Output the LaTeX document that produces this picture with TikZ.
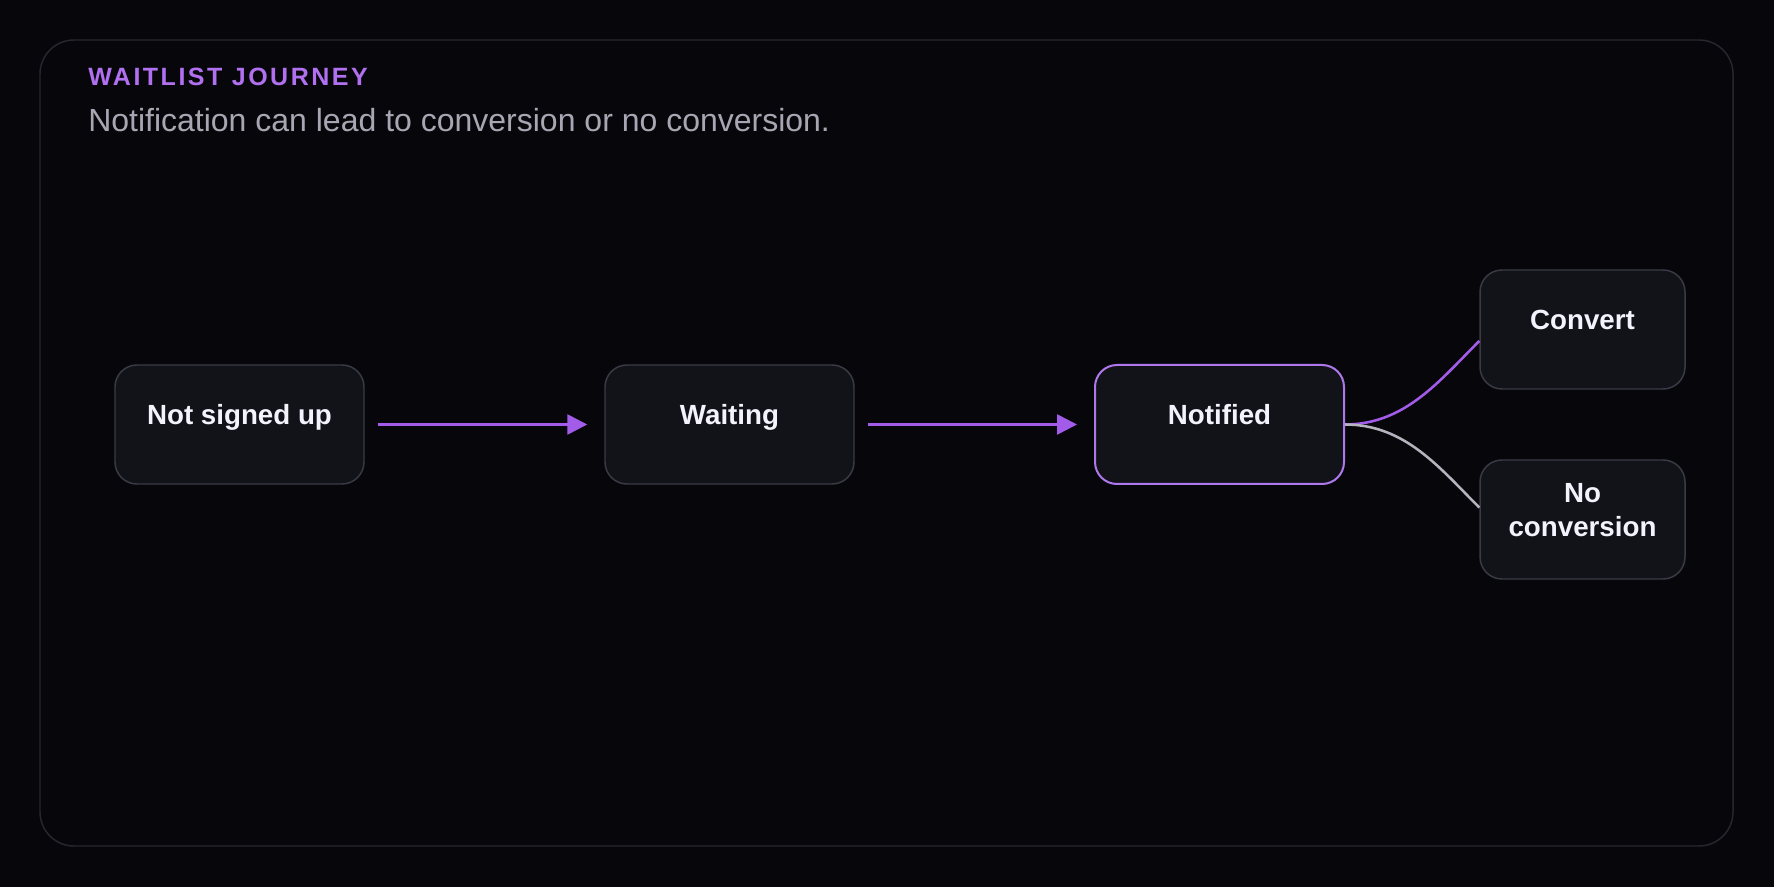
\documentclass[tikz,border=0pt]{standalone}
\usepackage{fontspec}
\setmainfont{Liberation Sans}
\newfontfamily\spacedfont[LetterSpace=10]{Liberation Sans}
\usepackage{xcolor}
\usetikzlibrary{arrows.meta, positioning}

\definecolor{bgdark}{HTML}{07070B}
\definecolor{panelline}{HTML}{26262E}
\definecolor{nodefill}{HTML}{121219}
\definecolor{nodeline}{HTML}{3A3A46}
\definecolor{accent}{HTML}{A35BEA}
\definecolor{accentlight}{HTML}{AE78EC}
\definecolor{titlecol}{HTML}{B070F0}
\definecolor{labelwhite}{HTML}{F4F2FC}
\definecolor{subgray}{HTML}{A8A6B2}
\definecolor{curvegray}{HTML}{B5B3BD}

\begin{document}
\begin{tikzpicture}[x=0.75pt, y=0.75pt, >=Stealth,
  stagebox/.style={draw=nodeline, fill=nodefill, line width=1.1pt, rounded corners=16.5pt,
    minimum width=186.75pt, minimum height=89.25pt, inner sep=0pt},
  endbox/.style={stagebox, minimum width=153.75pt},
  basetext/.style={text=labelwhite, font=\fontsize{20.8}{25.5}\selectfont\bfseries, align=center},
  stagetext/.style={basetext, text height=14pt, text depth=14pt},
  flow/.style={accent, line width=2pt, -{Triangle[length=15pt, width=15pt]},
    shorten <=9.75pt, shorten >=12.75pt}]
  % background and panel
  \fill[bgdark] (0,0) rectangle (1774,-887);
  \draw[panelline, line width=1.1pt, rounded corners=25.5pt] (40,-40) rectangle (1733,-846);
  % heading
  \node[anchor=base west, inner sep=0pt, text=titlecol, font=\fontsize{18.75}{22}\selectfont] (title) at (88,-86) {\spacedfont\bfseries WAITLIST JOURNEY};
  \node[anchor=base west, inner sep=0pt, text=subgray, font=\fontsize{24}{28}\selectfont] (subtitle) at (88,-132) {Notification can lead to conversion or no conversion.};
  % stages
  \node[stagebox, label={[stagetext]center:Not signed up}] (notsigned) at (239.5,-424.5) {};
  \node[stagebox, label={[stagetext]center:Waiting}] (waiting) at (729.5,-424.5) {};
  \node[stagebox, draw=accentlight, line width=1.5pt, label={[stagetext]center:Notified}] (notified) at (1219.5,-424.5) {};
  \node[endbox, label={[stagetext]center:Convert}] (convert) at (1582.5,-329.5) {};
  \node[endbox, label={[basetext, yshift=7pt]center:No\\conversion}] (noconv) at (1582.5,-519.5) {};
  % flow
  \draw[flow] (notsigned.east) -- (waiting.west);
  \draw[flow] (waiting.east) -- (notified.west);
  % branches
  \draw[accent, line width=1.9pt] (notified.east) .. controls +(60,0) and +(-40,-40) .. ([yshift=-8.6pt]convert.west);
  \draw[curvegray, line width=1.9pt] (notified.east) .. controls +(60,0) and +(-40,40) .. ([yshift=9pt]noconv.west);
\end{tikzpicture}
\end{document}
